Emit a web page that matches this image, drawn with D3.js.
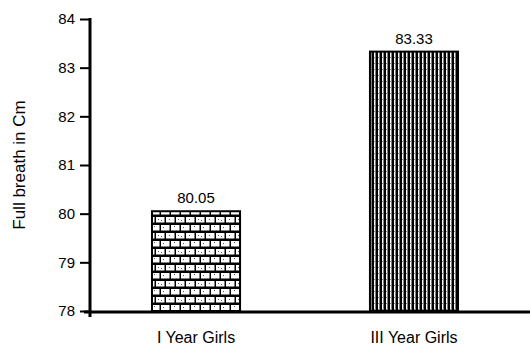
<!DOCTYPE html>
<html>
<head>
<meta charset="utf-8">
<script src="https://cdn.jsdelivr.net/npm/d3@7"></script>
<style>
  html, body { margin: 0; padding: 0; background: #fff; }
  svg { display: block; font-family: "Liberation Sans", Arial, sans-serif; }
</style>
</head>
<body>
<svg id="chart" width="530" height="347"></svg>
<script>
// Chest measurement (full breath) by group
const groups = ["I Year Girls", "III Year Girls"];
const fullBreath = [80.05, 83.33];
const valueLabels = ["80.05", "83.33"];
const yTicks = [78, 79, 80, 81, 82, 83, 84];
const yTitle = "Full breath in Cm";

const svg = d3.select("#chart");

const x = d3.scaleBand()
  .domain(groups)
  .range([88, 522])
  .paddingInner(0.596)
  .paddingOuter(0.2935);

const y = d3.scaleLinear()
  .domain([78, 84])
  .range([311, 19]);

// Fill patterns: brick for the first bar, vertical hatching for the second
const defs = svg.append("defs");

const brick = defs.append("pattern")
  .attr("id", "brick")
  .attr("patternUnits", "userSpaceOnUse")
  .attr("width", 20).attr("height", 16);
brick.append("rect").attr("width", 20).attr("height", 16).attr("fill", "#000");
[[1, 1, 8.5, 5.5], [11, 1, 8.5, 5.5], [-4, 9, 8.5, 5.5], [6, 9, 8.5, 5.5], [16, 9, 8.5, 5.5]].forEach(([bx, by, bw, bh]) => {
  brick.append("rect")
    .attr("x", bx).attr("y", by).attr("width", bw).attr("height", bh)
    .attr("fill", "#fff");
});
// speckle inside bricks
[[3, 3], [14, 2], [9, 11], [1, 12], [18, 11]].forEach(([sx, sy]) => {
  brick.append("rect").attr("x", sx).attr("y", sy).attr("width", 1).attr("height", 1).attr("fill", "#555");
});

const stripes = defs.append("pattern")
  .attr("id", "stripes")
  .attr("patternUnits", "userSpaceOnUse")
  .attr("width", 4).attr("height", 6);
stripes.append("rect").attr("width", 4).attr("height", 6).attr("fill", "#000");
stripes.append("rect").attr("x", 2).attr("y", 0).attr("width", 1.5).attr("height", 6).attr("fill", "#fff");
stripes.append("rect").attr("x", 2).attr("y", 3).attr("width", 1.5).attr("height", 1).attr("fill", "#888");

const fills = ["url(#brick)", "url(#stripes)"];

// Bars
svg.selectAll("rect.bar")
  .data(groups)
  .join("rect")
  .attr("class", "bar")
  .attr("x", d => x(d))
  .attr("width", x.bandwidth())
  .attr("y", (d, i) => y(fullBreath[i]))
  .attr("height", (d, i) => y(78) - y(fullBreath[i]))
  .attr("fill", (d, i) => fills[i])
  .attr("stroke", "#000")
  .attr("stroke-width", 2);

// Value labels above bars
svg.selectAll("text.value")
  .data(groups)
  .join("text")
  .attr("class", "value")
  .attr("x", d => x(d) + x.bandwidth() / 2)
  .attr("y", (d, i) => y(fullBreath[i]) - 8)
  .attr("text-anchor", "middle")
  .attr("font-size", 15)
  .attr("fill", "#000")
  .text((d, i) => valueLabels[i]);

// Y axis
const yAxis = svg.append("g")
  .attr("transform", "translate(90,0)")
  .call(d3.axisLeft(y).tickValues(yTicks).tickSize(10).tickPadding(5).tickFormat(d3.format("d")));
yAxis.select(".domain").remove();
yAxis.selectAll(".tick line").attr("stroke", "#000").attr("stroke-width", 2);
yAxis.selectAll(".tick text").attr("font-size", 15).attr("fill", "#000")
  .attr("font-family", "Liberation Sans, Arial, sans-serif");
svg.append("line")
  .attr("x1", 90).attr("x2", 90).attr("y1", 18).attr("y2", 317)
  .attr("stroke", "#000").attr("stroke-width", 3);

// X axis
const xAxis = svg.append("g")
  .attr("transform", "translate(0,312)")
  .call(d3.axisBottom(x).tickSize(0).tickPadding(20));
xAxis.select(".domain").remove();
xAxis.selectAll(".tick text").attr("font-size", 16).attr("fill", "#000")
  .attr("font-family", "Liberation Sans, Arial, sans-serif");
svg.append("line")
  .attr("x1", 84).attr("x2", 530).attr("y1", 312).attr("y2", 312)
  .attr("stroke", "#000").attr("stroke-width", 3);

// Y axis title
svg.append("text")
  .attr("transform", "translate(25,165) rotate(-90)")
  .attr("text-anchor", "middle")
  .attr("font-size", 17)
  .attr("fill", "#000")
  .text(yTitle);
</script>
</body>
</html>
